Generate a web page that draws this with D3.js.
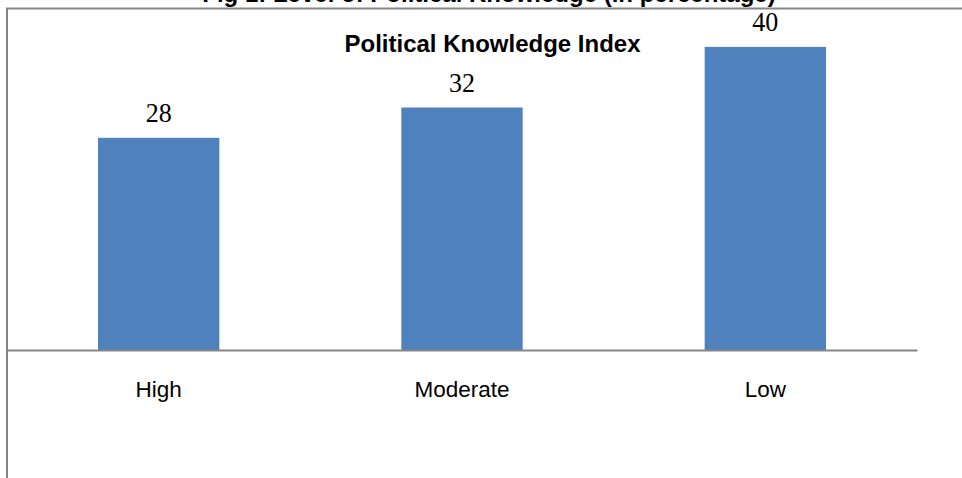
<!DOCTYPE html>
<html>
<head>
<meta charset="utf-8">
<script src="https://cdn.jsdelivr.net/npm/d3@7"></script>
<style>
  body { margin: 0; background: #fff; }
  svg { display: block; }
  .axis text { font-family: "Liberation Sans", Arial, sans-serif; font-size: 22.5px; fill: #000; }
</style>
</head>
<body>
<svg id="chart"></svg>
<script>
const categories = ["High", "Moderate", "Low"];
const values = [28, 32, 40];
const title = "Fig 1: Level of Political Knowledge (in percentage)";
const seriesName = "Political Knowledge Index";

const width = 962;
const height = 478;
const margin = { top: 9, right: 45, bottom: 128, left: 7 };
const baseY = height - margin.bottom;

const svg = d3.select("#chart")
    .attr("width", width)
    .attr("height", height);

const x = d3.scaleBand()
    .domain(categories)
    .range([margin.left, width - margin.right])
    .paddingInner(0.6)
    .paddingOuter(0.3);

const y = d3.scaleLinear()
    .domain([0, 45])
    .range([baseY, margin.top]);

// chart border (runs off the right and bottom edges)
svg.append("rect")
    .attr("x", 7)
    .attr("y", 8.5)
    .attr("width", 1000)
    .attr("height", 1000)
    .attr("fill", "none")
    .attr("stroke", "#868686")
    .attr("stroke-width", 2);

svg.append("g")
    .selectAll("rect")
    .data(values)
    .join("rect")
    .attr("x", (d, i) => x(categories[i]))
    .attr("y", d => y(d))
    .attr("width", x.bandwidth())
    .attr("height", d => baseY - y(d))
    .attr("fill", "#4F81BD");

// value labels, a little taller than wide like the original
svg.append("g")
    .selectAll("text")
    .data(values)
    .join("text")
    .attr("transform", (d, i) => "translate(" + (x(categories[i]) + x.bandwidth() / 2) + "," + (y(d) - 16) + ") scale(0.93,1)")
    .attr("text-anchor", "middle")
    .attr("font-family", "'Liberation Serif', 'Times New Roman', serif")
    .attr("font-size", 28)
    .attr("fill", "#000")
    .text(d => d);

const xAxis = d3.axisBottom(x).tickSize(0).tickPadding(31);
const gx = svg.append("g")
    .attr("class", "axis")
    .attr("transform", "translate(0," + baseY + ")")
    .call(xAxis);
gx.select(".domain")
    .attr("stroke", "#868686")
    .attr("stroke-width", 2);

svg.append("text")
    .attr("x", 489)
    .attr("y", 2)
    .attr("text-anchor", "middle")
    .attr("font-family", "'Liberation Sans', Arial, sans-serif")
    .attr("font-weight", "bold")
    .attr("font-size", 24)
    .text(title);

svg.append("text")
    .attr("x", 492.5)
    .attr("y", 52)
    .attr("text-anchor", "middle")
    .attr("font-family", "'Liberation Sans', Arial, sans-serif")
    .attr("font-weight", "bold")
    .attr("font-size", 24)
    .text(seriesName);
</script>
</body>
</html>
